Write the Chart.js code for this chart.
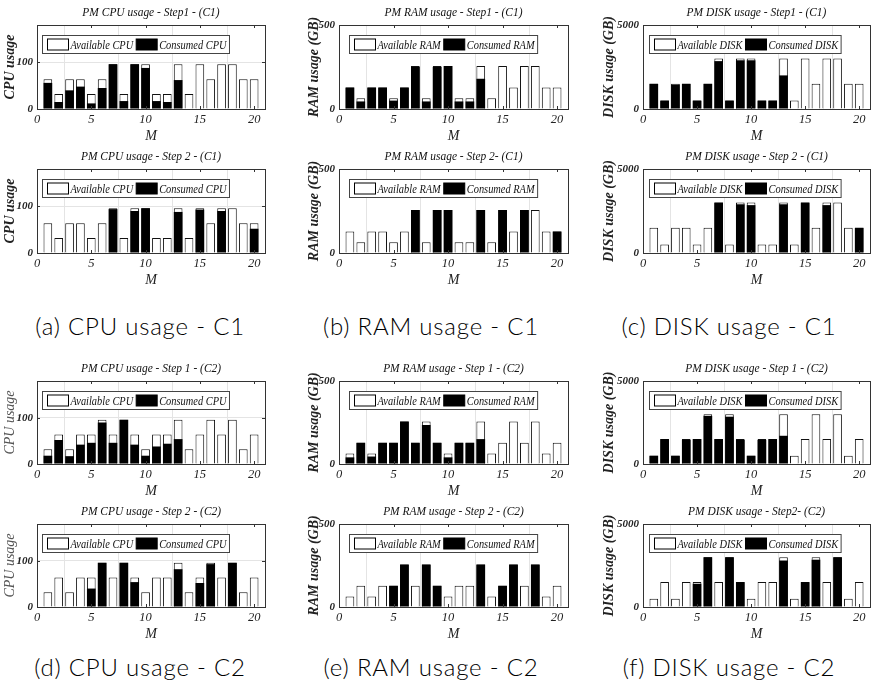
<!DOCTYPE html>
<html>
<head>
<meta charset="utf-8">
<script src="https://cdn.jsdelivr.net/npm/chart.js@4"></script>
<style>
  html, body { margin:0; padding:0; background:#fff; }
  body { width:873px; height:691px; position:relative; overflow:hidden; }
  canvas { position:absolute; }
  .cap { position:absolute; font-family: Lato, "Open Sans", sans-serif; font-weight:300; font-size:24px; letter-spacing:0.8px; color:#000; white-space:nowrap; transform:translate(-50%,-50%); }
</style>
</head>
<body>
<script>
// ---------- data ----------
const M = [1,2,3,4,5,6,7,8,9,10,11,12,13,14,15,16,17,18,19,20];
const xTicks = [0,5,10,15,20];
const cpuTicks = [0,100];
const ramTicks = [0,500];
const diskTicks = [0,5000];

// Configuration C1
const cpuAvailC1  = [64,32,64,64,32,64,96,32,96,96,32,32,96,32,96,64,96,96,64,64];
const cpuStep1C1  = [56,15,40,48,12,45,96,17,96,88,17,15,62,0,0,0,0,0,0,0];
const cpuStep2C1  = [0,0,0,0,0,0,94,0,90,96,0,0,88,0,93,0,90,0,0,52];
const ramAvailC1  = [128,64,128,128,64,128,256,64,256,256,64,64,256,64,256,128,256,256,128,128];
const ramStep1C1  = [128,45,128,128,50,128,250,45,250,256,45,45,180,0,0,0,0,0,0,0];
const ramStep2C1  = [0,0,0,0,0,0,256,0,256,256,0,0,256,0,256,0,256,0,0,128];
const diskAvailC1 = [1500,500,1500,1500,500,1500,3000,500,3000,3000,500,500,3000,500,3000,1500,3000,3000,1500,1500];
const diskStep1C1 = [1500,500,1450,1500,500,1500,2850,500,2900,2900,500,500,2000,0,0,0,0,0,0,0];
const diskStep2C1 = [0,0,0,0,0,0,3000,0,2900,2850,0,0,2900,0,3000,0,2850,0,0,1500];

// Configuration C2
const cpuAvailC2  = [32,64,32,64,64,96,64,96,64,32,64,64,96,32,64,96,64,96,32,64];
const cpuStep1C2  = [18,52,17,42,46,90,46,96,42,18,38,44,54,0,0,0,0,0,0,0];
const cpuStep2C2  = [0,0,0,0,40,96,0,96,54,0,0,0,82,0,52,93,0,96,0,0];
const ramAvailC2  = [64,128,64,128,128,256,128,256,128,64,128,128,256,64,128,256,128,256,64,128];
const ramStep1C2  = [40,128,45,128,128,256,128,235,128,40,128,128,150,0,0,0,0,0,0,0];
const ramStep2C2  = [0,0,0,0,128,256,0,256,128,0,0,0,256,0,128,256,0,256,0,0];
const diskAvailC2 = [500,1500,500,1500,1500,3000,1500,3000,1500,500,1500,1500,3000,500,1500,3000,1500,3000,500,1500];
const diskStep1C2 = [500,1500,500,1450,1500,2900,1500,2850,1450,500,1450,1500,1700,0,0,0,0,0,0,0];
const diskStep2C2 = [0,0,0,0,1400,3000,0,3000,1500,0,0,0,2800,0,1500,2850,0,3000,0,0];

const titles = [
  ['PM CPU usage - Step1 - (C1)',  'PM RAM usage - Step1 - (C1)',  'PM DISK usage - Step1 - (C1)'],
  ['PM CPU usage - Step 2 - (C1)', 'PM RAM usage - Step 2- (C1)',  'PM DISK usage - Step 2 - (C1)'],
  ['PM CPU usage - Step 1 - (C2)', 'PM RAM usage - Step 1 - (C2)', 'PM DISK usage - Step 1 - (C2)'],
  ['PM CPU usage - Step 2 - (C2)', 'PM RAM usage - Step 2 - (C2)', 'PM DISK usage - Step2- (C2)']
];
const resources = ['CPU', 'RAM', 'DISK'];
const yTitles = ['CPU usage', 'RAM usage (GB)', 'DISK usage (GB)'];
const captions = [
  ['(a) CPU usage - C1', '(b) RAM usage - C1', '(c) DISK usage - C1'],
  ['(d) CPU usage - C2', '(e) RAM usage - C2', '(f) DISK usage - C2']
];

// ---------- layout ----------
const cols = [
  {L:0,   W:290, yW:37, padR:25, yTitlePad:2,  legDx:5,  yMax:180,  yT:cpuTicks},
  {L:290, W:290, yW:49, padR:12, yTitlePad:16, legDx:10, yMax:500,  yT:ramTicks},
  {L:580, W:293, yW:63, padR:3,  yTitlePad:21, legDx:6,  yMax:5000, yT:diskTicks}
];
const rows = [
  {chartTop:25,  plotH:84},
  {chartTop:169, plotH:84},
  {chartTop:381, plotH:83},
  {chartTop:524, plotH:83}
];
const panelData = [
  [[cpuAvailC1, cpuStep1C1], [ramAvailC1, ramStep1C1], [diskAvailC1, diskStep1C1]],
  [[cpuAvailC1, cpuStep2C1], [ramAvailC1, ramStep2C1], [diskAvailC1, diskStep2C1]],
  [[cpuAvailC2, cpuStep1C2], [ramAvailC2, ramStep1C2], [diskAvailC2, diskStep1C2]],
  [[cpuAvailC2, cpuStep2C2], [ramAvailC2, ramStep2C2], [diskAvailC2, diskStep2C2]]
];

const SERIF = '"Liberation Serif", "DejaVu Serif", serif';
const TITLE_BAND = 24, XAXIS_H = 36;
const CONDENSE = 0.8;
const TITLE_CONDENSE = 0.88;
const TITLE_SIZE = 13;

const framePlugin = {
  id: 'frame',
  afterDatasetsDraw(chart) {
    const {ctx, chartArea: a} = chart;
    ctx.save();
    ctx.strokeStyle = '#333';
    ctx.lineWidth = 1;
    ctx.strokeRect(Math.round(a.left) + 0.5, Math.round(a.top) + 0.5,
                   Math.round(a.right - a.left), Math.round(a.bottom - a.top));
    const xs = chart.scales.x;
    ctx.beginPath();
    xs.ticks.forEach(t => {
      const px = Math.round(xs.getPixelForValue(t.value)) + 0.5;
      ctx.moveTo(px, a.bottom); ctx.lineTo(px, a.bottom - 3);
      ctx.moveTo(px, a.top); ctx.lineTo(px, a.top + 3);
    });
    const ys = chart.scales.y;
    ys.ticks.forEach(t => {
      const py = Math.round(ys.getPixelForValue(t.value)) + 0.5;
      ctx.moveTo(a.left, py); ctx.lineTo(a.left + 3, py);
      ctx.moveTo(a.right, py); ctx.lineTo(a.right - 3, py);
    });
    ctx.stroke();
    ctx.restore();
  }
};

const boxLegend = {
  id: 'boxLegend',
  afterDraw(chart, args, opts) {
    const {ctx, chartArea: a} = chart;
    ctx.save();
    ctx.font = 'italic 13px ' + SERIF;
    const sets = chart.data.datasets;
    const sw = 21, sh = 11, h = 18, padL = 5, gap = 2, padR = 3;
    const tw = sets.map(d => ctx.measureText(d.label).width * CONDENSE);
    let w = padL;
    sets.forEach((d, i) => { w += sw + gap + tw[i] + (i < sets.length - 1 ? gap + 1 : padR); });
    const x0 = Math.round(a.left + opts.dx) + 0.5, y0 = Math.round(a.top + opts.dy) + 0.5;
    ctx.fillStyle = '#fff';
    ctx.fillRect(x0, y0, w, h);
    ctx.strokeStyle = '#444';
    ctx.lineWidth = 1;
    ctx.strokeRect(x0, y0, w, h);
    let x = x0 + padL;
    sets.forEach((d, i) => {
      const sy = Math.round(y0 + (h - sh) / 2);
      ctx.fillStyle = d.backgroundColor;
      ctx.fillRect(x, sy, sw, sh);
      ctx.strokeStyle = '#000';
      ctx.strokeRect(x, sy, sw, sh);
      x += sw + gap;
      ctx.fillStyle = '#111';
      ctx.textBaseline = 'middle';
      ctx.textAlign = 'left';
      ctx.fillText(d.label, x, y0 + h / 2 + 1, tw[i]);
      x += tw[i] + gap + 1;
    });
    ctx.restore();
  }
};

// centre the title over the plot area and condense it slightly (fits via maxWidth)
const centerTitle = {
  id: 'centerTitle',
  afterLayout(chart) {
    const tb = chart.titleBlock;
    if (!tb) return;
    const ctx = chart.ctx;
    ctx.save();
    ctx.font = 'italic ' + TITLE_SIZE + 'px ' + SERIF;
    const w = ctx.measureText(chart.options.plugins.title.text).width * TITLE_CONDENSE;
    ctx.restore();
    const cx = (chart.chartArea.left + chart.chartArea.right) / 2;
    tb.left = cx - w / 2;
    tb.right = cx + w / 2;
  }
};

function makePanel(r, c) {
  const col = cols[c], row = rows[r];
  const canvas = document.createElement('canvas');
  const H = TITLE_BAND + row.plotH + XAXIS_H;
  canvas.width = col.W; canvas.height = H;
  canvas.style.left = col.L + 'px';
  canvas.style.top = (row.chartTop - TITLE_BAND) + 'px';
  canvas.style.width = col.W + 'px'; canvas.style.height = H + 'px';
  document.body.appendChild(canvas);

  const [avail, used] = panelData[r][c];
  const res = resources[c];
  const lightLabel = (c === 0 && r >= 2);

  new Chart(canvas, {
    type: 'bar',
    data: {
      datasets: [
        { label: 'Available ' + res, data: M.map((m, i) => ({x: m, y: avail[i]})),
          backgroundColor: '#ffffff', borderColor: '#111', borderWidth: 1, order: 1 },
        { label: 'Consumed ' + res, data: M.map((m, i) => ({x: m, y: used[i]})),
          backgroundColor: '#000000', borderColor: '#000', borderWidth: 0, order: 0 }
      ]
    },
    options: {
      responsive: false,
      animation: false,
      devicePixelRatio: 1,
      layout: { padding: { left: 0, right: col.padR, top: 0, bottom: 0 } },
      datasets: { bar: { grouped: false, barPercentage: 0.8, categoryPercentage: 1.0 } },
      plugins: {
        legend: { display: false },
        tooltip: { enabled: false },
        title: {
          display: true, text: titles[r][c], color: '#111',
          font: { family: SERIF, size: TITLE_SIZE, style: 'italic', weight: 'normal', lineHeight: 1.15 },
          padding: { top: 4, bottom: 5.05 }
        },
        boxLegend: { dx: col.legDx, dy: 9.5 }
      },
      scales: {
        x: {
          type: 'linear', min: 0, max: 21, offset: false,
          afterBuildTicks: s => { s.ticks = xTicks.map(v => ({value: v})); },
          afterFit: s => { s.height = XAXIS_H; },
          grid: { color: '#e4e4e4', drawTicks: false, lineWidth: 1 },
          border: { display: false },
          ticks: { font: { family: SERIF, size: 12.5, style: 'italic' }, color: '#222', padding: 3, maxRotation: 0,
                   callback: v => String(v) },
          title: { display: true, text: 'M', color: '#222',
                   font: { family: SERIF, size: 14, style: 'italic', lineHeight: 1.2 },
                   padding: { top: 0, bottom: 0 } }
        },
        y: {
          min: 0, max: col.yMax,
          afterBuildTicks: s => { s.ticks = col.yT.map(v => ({value: v})); },
          afterFit: s => { s.width = col.yW; },
          grid: { color: '#e4e4e4', drawTicks: false, lineWidth: 1 },
          border: { display: false },
          ticks: { font: { family: SERIF, size: 11, style: 'italic', weight: 'bold' }, color: '#222', padding: 4,
                   callback: v => String(v) },
          title: { display: true, text: yTitles[c], color: lightLabel ? '#555' : '#222',
                   font: { family: SERIF, size: 14, style: 'italic', weight: lightLabel ? 'normal' : 'bold', lineHeight: 1.2 },
                   padding: { top: col.yTitlePad, bottom: 0 } }
        }
      }
    },
    plugins: [centerTitle, framePlugin, boxLegend]
  });
}

for (let r = 0; r < rows.length; r++) for (let c = 0; c < cols.length; c++) makePanel(r, c);

// captions
const capX = [140, 431, 729];
const capY = [325, 666];
captions.forEach((rowCaps, ri) => rowCaps.forEach((t, ci) => {
  const d = document.createElement('div');
  d.className = 'cap';
  d.textContent = t;
  d.style.left = capX[ci] + 'px';
  d.style.top = capY[ri] + 'px';
  document.body.appendChild(d);
}));
</script>
</body>
</html>
